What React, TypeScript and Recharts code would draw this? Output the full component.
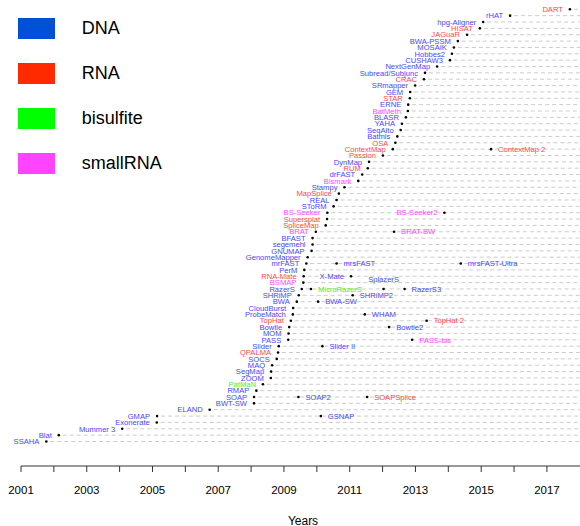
import { ReferenceLine, Scatter, ScatterChart, XAxis, YAxis } from "recharts";

type ToolType = "DNA" | "RNA" | "bisulfite" | "smallRNA";

// first version of each aligner, bottom row to top row
const toolNames = [
  "SSAHA", "Blat", "Mummer 3", "Exonerate", "GMAP", "ELAND", "BWT-SW", "SOAP", "RMAP", "PatMaN",
  "ZOOM", "SegMap", "MAQ", "SOCS", "QPALMA", "Slider", "PASS", "MOM", "Bowtie", "TopHat",
  "ProbeMatch", "CloudBurst", "BWA", "SHRiMP", "RazerS", "BSMAP", "RNA-Mate", "PerM", "mrFAST", "GenomeMapper",
  "GNUMAP", "segemehl", "BFAST", "BRAT", "SpliceMap", "Supersplat", "BS-Seeker", "SToRM", "REAL", "MapSplice",
  "Stampy", "Bismark", "drFAST", "RUM", "DynMap", "Passion", "ContextMap", "OSA", "Batmis", "SeqAlto",
  "YAHA", "BLASR", "BatMeth", "ERNE", "STAR", "GEM", "SRmapper", "CRAC", "Subread/Subjunc", "NextGenMap",
  "CUSHAW3", "Hobbes2", "MOSAIK", "BWA-PSSM", "JAGuaR", "HISAT", "hpg-Aligner", "rHAT", "DART",
];

const toolYears = [
  2001.77, 2002.15, 2004.08, 2005.13, 2005.14, 2006.74, 2008.09, 2008.09, 2008.16, 2008.36,
  2008.6, 2008.61, 2008.64, 2008.78, 2008.82, 2008.84, 2009.13, 2009.14, 2009.16, 2009.21,
  2009.27, 2009.28, 2009.39, 2009.45, 2009.54, 2009.59, 2009.6, 2009.62, 2009.68, 2009.72,
  2009.84, 2009.87, 2009.87, 2009.97, 2010.27, 2010.31, 2010.32, 2010.51, 2010.6, 2010.67,
  2010.84, 2011.26, 2011.38, 2011.55, 2011.59, 2012.01, 2012.31, 2012.39, 2012.45, 2012.55,
  2012.59, 2012.71, 2012.77, 2012.78, 2012.83, 2012.84, 2012.99, 2013.26, 2013.29, 2013.66,
  2014.05, 2014.11, 2014.17, 2014.29, 2014.57, 2014.96, 2015.06, 2015.88, 2017.7,
];

const toolTypes: ToolType[] = [
  "DNA", "DNA", "DNA", "DNA", "DNA", "DNA", "DNA", "DNA", "DNA", "bisulfite",
  "DNA", "DNA", "DNA", "DNA", "RNA", "DNA", "DNA", "DNA", "DNA", "RNA",
  "DNA", "DNA", "DNA", "DNA", "DNA", "smallRNA", "RNA", "DNA", "DNA", "DNA",
  "DNA", "DNA", "DNA", "smallRNA", "RNA", "RNA", "smallRNA", "DNA", "DNA", "RNA",
  "DNA", "smallRNA", "DNA", "RNA", "DNA", "RNA", "RNA", "RNA", "DNA", "DNA",
  "DNA", "DNA", "smallRNA", "DNA", "RNA", "DNA", "DNA", "RNA", "DNA", "DNA",
  "DNA", "DNA", "DNA", "DNA", "RNA", "RNA", "DNA", "DNA", "RNA",
];

// later versions, drawn on the row of the tool they follow
const laterNames = [
  "GSNAP", "SOAP2", "SOAPSplice", "Slider II", "PASS-bis", "Bowtie2", "TopHat 2", "WHAM", "BWA-SW", "SHRiMP2",
  "MicroRazerS", "SplazerS", "RazerS3", "X-Mate", "mrsFAST", "mrsFAST-Ultra", "BRAT-BW", "BS-Seeker2", "ContextMap 2",
];
const laterRows = [
  "GMAP", "SOAP", "SOAP", "Slider", "PASS", "Bowtie", "TopHat", "ProbeMatch", "BWA", "SHRiMP",
  "RazerS", "RazerS", "RazerS", "RNA-Mate", "mrFAST", "mrFAST", "BRAT", "BS-Seeker", "ContextMap",
];
const laterYears = [
  2010.12, 2009.44, 2011.53, 2010.17, 2012.9, 2012.2, 2013.34, 2011.46, 2010.04, 2011.09,
  2009.82, 2012.03, 2012.67, 2011.04, 2010.6, 2014.38, 2012.35, 2013.88, 2015.3,
];
const laterTypes: ToolType[] = [
  "DNA", "DNA", "RNA", "DNA", "smallRNA", "DNA", "RNA", "DNA", "DNA", "DNA",
  "bisulfite", "DNA", "DNA", "DNA", "DNA", "DNA", "smallRNA", "smallRNA", "RNA",
];

const legendLabels: ToolType[] = ["DNA", "RNA", "bisulfite", "smallRNA"];
const yearTicks = [
  2001, 2002, 2003, 2004, 2005, 2006, 2007, 2008, 2009, 2010, 2011, 2012, 2013, 2014, 2015, 2016, 2017,
];
const yearLabels = ["2001", "2003", "2005", "2007", "2009", "2011", "2013", "2015", "2017"];

const LEGEND_COLORS: Record<ToolType, string> = {
  DNA: "#0050d8",
  RNA: "#ff2a00",
  bisulfite: "#00ff00",
  smallRNA: "#ff44ff",
};
const TEXT_COLORS: Record<ToolType, string> = {
  DNA: "#4646ff",
  RNA: "#ff4646",
  bisulfite: "#3cf03c",
  smallRNA: "#ff46ff",
};
const LABEL_SIDE: Record<string, string> = { "X-Mate": "left", "BS-Seeker2": "left", SplazerS: "top" };

const FONT = "'Liberation Sans', Arial, Helvetica, sans-serif";
const WIDTH = 580;
const HEIGHT = 526;
const X_MIN = 2000.361;
const X_MAX = 2018.006;
const Y_MIN = -2.854;
const Y_MAX = 70.463;
const LINE_GAP = 0.12; // years between a dot and the start of its dashed line

const firstPoints = toolNames.map((name, i) => ({
  name,
  x: toolYears[i],
  y: i + 1,
  type: toolTypes[i],
  side: "left",
}));

const laterPoints = laterNames.map((name, i) => ({
  name,
  x: laterYears[i],
  y: toolNames.indexOf(laterRows[i]) + 1,
  type: laterTypes[i],
  side: LABEL_SIDE[name] ?? "right",
}));

function ToolMark(props: any) {
  const { cx, cy, payload } = props;
  let tx = cx - 7;
  let ty = cy;
  let anchor = "end";
  if (payload.side === "right") {
    tx = cx + 7;
    anchor = "start";
  } else if (payload.side === "top") {
    tx = cx;
    ty = cy - 9.5;
    anchor = "middle";
  }
  return (
    <g>
      <circle cx={cx} cy={cy} r={1.3} fill="#000" />
      <text
        x={tx}
        y={ty}
        dy="0.36em"
        textAnchor={anchor}
        fontSize={7.6}
        fontFamily={FONT}
        fill={TEXT_COLORS[payload.type as ToolType]}
      >
        {payload.name}
      </text>
    </g>
  );
}

function YearTick(props: any) {
  const { x, y, payload } = props;
  const label = String(payload.value);
  if (!yearLabels.includes(label)) return <g />;
  return (
    <text x={x} y={y + 20.4} textAnchor="middle" fontSize={11.5} fontFamily={FONT} fill="#000">
      {label}
    </text>
  );
}

function LegendBox() {
  return (
    <div style={{ position: "absolute", left: 0, top: 0, fontFamily: FONT }}>
      {legendLabels.map((label, i) => (
        <div key={label} style={{ position: "absolute", left: 0, top: 17.6 + i * 45.1, height: 21.4 }}>
          <div
            style={{
              position: "absolute",
              left: 18.3,
              top: 0,
              width: 36.7,
              height: 21.4,
              background: LEGEND_COLORS[label],
            }}
          />
          <div
            style={{
              position: "absolute",
              left: 81.7,
              top: 0,
              height: 21.4,
              lineHeight: "21.4px",
              fontSize: 18,
              whiteSpace: "nowrap",
              color: "#000",
            }}
          >
            {label}
          </div>
        </div>
      ))}
    </div>
  );
}

export default function App() {
  return (
    <div style={{ position: "absolute", left: 0, top: 0, width: WIDTH, height: HEIGHT, background: "#fff" }}>
      <ScatterChart width={WIDTH} height={HEIGHT} margin={{ top: 0, right: 0, bottom: 0, left: 0 }}>
        <XAxis
          type="number"
          dataKey="x"
          domain={[X_MIN, X_MAX]}
          ticks={yearTicks}
          interval={0}
          allowDataOverflow
          axisLine={false}
          tickSize={6}
          tickLine={{ stroke: "#333" }}
          tick={YearTick}
          height={60}
          label={{
            value: "Years",
            position: "insideBottom",
            offset: 1.5,
            dx: 13,
            fontSize: 12,
            fontFamily: FONT,
            fill: "#000",
          }}
        />
        <YAxis type="number" dataKey="y" domain={[Y_MIN, Y_MAX]} allowDataOverflow hide />
        {firstPoints.map((p) => (
          <ReferenceLine
            key={`row-${p.name}`}
            segment={[
              { x: p.x + LINE_GAP, y: p.y },
              { x: X_MAX, y: p.y },
            ]}
            stroke="#cccccc"
            strokeDasharray="4 3"
            strokeWidth={1}
            ifOverflow="visible"
          />
        ))}
        <ReferenceLine
          segment={[
            { x: 2001, y: Y_MIN },
            { x: X_MAX, y: Y_MIN },
          ]}
          stroke="#333"
          strokeWidth={1}
          ifOverflow="visible"
        />
        <Scatter data={firstPoints} shape={ToolMark} isAnimationActive={false} />
        <Scatter data={laterPoints} shape={ToolMark} isAnimationActive={false} />
      </ScatterChart>
      <LegendBox />
    </div>
  );
}
